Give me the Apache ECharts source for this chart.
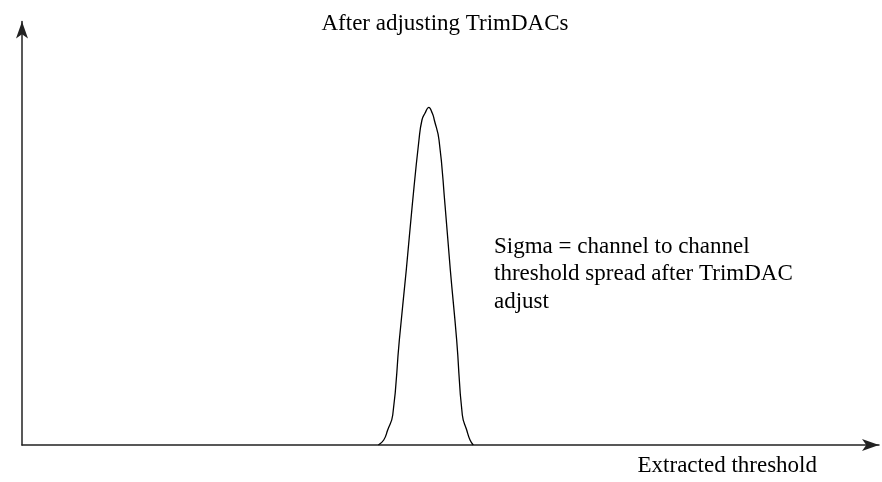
<!DOCTYPE html>
<html>
<head>
<meta charset="utf-8">
<title>After adjusting TrimDACs</title>
<script src="https://cdn.jsdelivr.net/npm/echarts@6/dist/echarts.min.js"></script>
<style>
  html, body { margin: 0; padding: 0; background: #fff; }
  #chart { width: 882px; height: 482px; }
</style>
</head>
<body>
<div id="chart"></div>
<script>
// Threshold distribution after TrimDAC adjustment (arbitrary units)
const thresholdX = [41.58, 42.21, 42.67, 43.26, 44.03, 44.84, 45.54, 46.32, 46.67, 47.02, 47.46,
                    47.88, 48.11, 48.66, 49.36, 49.98, 50.72, 51.38, 51.89, 52.28, 52.66];
const channelCount = [0, 1.18, 3.54, 7.08, 24.79, 41.32, 56.67, 72.02, 76.74, 78.32, 79.74,
                      78.32, 76.74, 72.02, 56.67, 41.32, 24.79, 7.08, 3.54, 1.18, 0];

const titleText = 'After adjusting TrimDACs';
const noteLines = ['Sigma = channel to channel', 'threshold spread after TrimDAC', 'adjust'];
const xAxisName = 'Extracted threshold';

const serif = '"Liberation Serif", "DejaVu Serif", serif';
const axisColor = '#222';

const chart = echarts.init(document.getElementById('chart'), null, { renderer: 'canvas' });

const axisCommon = {
  type: 'value',
  min: 0,
  max: 100,
  axisLine: {
    show: true,
    symbol: ['none', 'arrow'],
    symbolSize: [9, 17],
    lineStyle: { color: axisColor, width: 1.5 }
  },
  axisTick: { show: false },
  axisLabel: { show: false },
  splitLine: { show: false }
};

chart.setOption({
  animation: false,
  backgroundColor: '#fff',
  grid: { left: 22, right: 3, top: 21.5, bottom: 37 },
  xAxis: axisCommon,
  yAxis: axisCommon,
  graphic: [
    {
      type: 'text',
      x: 445,
      y: 24,
      style: {
        text: titleText,
        font: '23px ' + serif,
        fill: '#000',
        textAlign: 'center',
        textVerticalAlign: 'middle'
      }
    },
    {
      type: 'text',
      x: 494,
      y: 274,
      style: {
        text: noteLines.join('\n'),
        font: '23px ' + serif,
        lineHeight: 27.5,
        fill: '#000',
        textAlign: 'left',
        textVerticalAlign: 'middle'
      }
    },
    {
      // x-axis title, right-aligned under the arrow end
      type: 'text',
      x: 817,
      y: 465.5,
      style: {
        text: xAxisName,
        font: '23px ' + serif,
        fill: '#000',
        textAlign: 'right',
        textVerticalAlign: 'middle'
      }
    }
  ],
  series: [
    {
      type: 'line',
      data: thresholdX.map((x, i) => [x, channelCount[i]]),
      showSymbol: false,
      smooth: 0.5,
      lineStyle: { color: '#000', width: 1.3 },
      silent: true
    }
  ]
});
</script>
</body>
</html>
